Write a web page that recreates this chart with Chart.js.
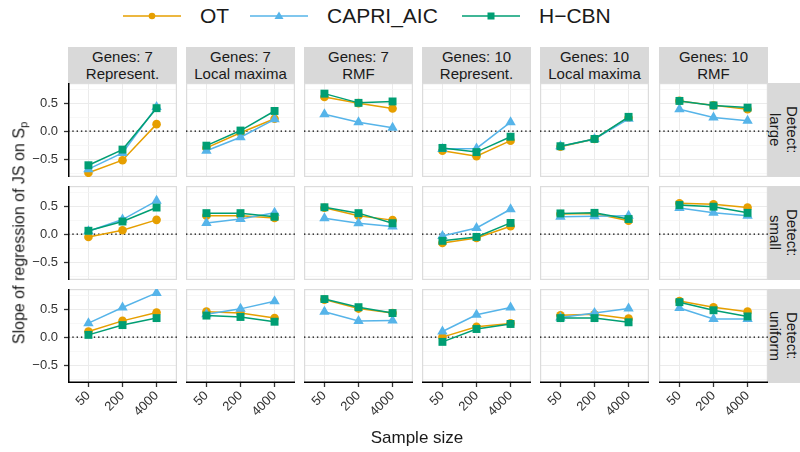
<!DOCTYPE html>
<html>
<head>
<meta charset="utf-8">
<script src="https://cdn.jsdelivr.net/npm/chart.js@4.4.0/dist/chart.umd.min.js"></script>
<style>
  body { margin: 0; background: #fff; font-family: "Liberation Sans", Arial, sans-serif; }
  #wrap { position: relative; width: 800px; height: 452px; overflow: hidden; background: #fff; }
  .cell { position: absolute; }
  .strip { position: absolute; background: #d9d9d9; color: #1a1a1a; font-size: 15px; line-height: 17px;
           text-align: center; display: flex; align-items: center; justify-content: center; }
  .rstrip { writing-mode: vertical-rl; }
  .legend-item { position: absolute; top: 4px; height: 24px; display: flex; align-items: center; font-size: 21px; color: #1a1a1a; }
  .title { position: absolute; color: #1a1a1a; white-space: nowrap; transform: translate(-50%, -50%); }
</style>
</head>
<body>
<div id="wrap"></div>
<script>
const sampleSizes = ["50", "200", "4000"];
const geneLabels = ["Genes: 7", "Genes: 7", "Genes: 7", "Genes: 10", "Genes: 10", "Genes: 10"];
const landscapeLabels = ["Represent.", "Local maxima", "RMF", "Represent.", "Local maxima", "RMF"];
const detectLabels = ["large", "small", "uniform"];
const yTicks = [-0.75, -0.5, -0.25, 0, 0.25, 0.5, 0.75];

// values[row][col] = slope at sample size 50, 200, 4000
const otValues = [
  [[-0.745, -0.52, 0.125], [-0.30, -0.03, 0.22], [0.61, 0.50, 0.405], [-0.35, -0.45, -0.17], [-0.28, -0.14, 0.24], [0.54, 0.46, 0.39]],
  [[-0.05, 0.07, 0.255], [0.33, 0.33, 0.29], [0.47, 0.33, 0.25], [-0.16, -0.07, 0.14], [0.36, 0.37, 0.24], [0.55, 0.535, 0.475]],
  [[0.10, 0.29, 0.44], [0.455, 0.43, 0.34], [0.67, 0.51, 0.43], [0.0, 0.185, 0.245], [0.39, 0.41, 0.33], [0.645, 0.535, 0.455]]
];
const capriValues = [
  [[-0.68, -0.39, 0.43], [-0.35, -0.11, 0.21], [0.30, 0.16, 0.06], [-0.32, -0.31, 0.16], [-0.27, -0.14, 0.22], [0.39, 0.245, 0.185]],
  [[0.05, 0.26, 0.595], [0.20, 0.27, 0.38], [0.285, 0.195, 0.135], [-0.035, 0.11, 0.445], [0.31, 0.32, 0.33], [0.465, 0.38, 0.33]],
  [[0.25, 0.53, 0.79], [0.41, 0.505, 0.64], [0.455, 0.29, 0.295], [0.10, 0.40, 0.53], [0.35, 0.43, 0.51], [0.52, 0.325, 0.325]]
];
const hcbnValues = [
  [[-0.61, -0.33, 0.41], [-0.26, 0.01, 0.36], [0.67, 0.505, 0.53], [-0.30, -0.375, -0.10], [-0.27, -0.14, 0.255], [0.54, 0.46, 0.42]],
  [[0.06, 0.225, 0.475], [0.375, 0.375, 0.31], [0.48, 0.375, 0.195], [-0.12, -0.05, 0.20], [0.37, 0.38, 0.27], [0.52, 0.49, 0.38]],
  [[0.04, 0.215, 0.34], [0.385, 0.36, 0.275], [0.68, 0.535, 0.43], [-0.085, 0.145, 0.235], [0.34, 0.34, 0.265], [0.625, 0.48, 0.37]]
];

const series = [
  { label: "OT", values: otValues, color: "#E69F00", style: "circle", radius: 4.3, order: 3 },
  { label: "CAPRI_AIC", values: capriValues, color: "#56B4E9", style: "triangle", radius: 6, order: 2 },
  { label: "H\u2212CBN", values: hcbnValues, color: "#009E73", style: "rect", radius: 5.6, order: 1 }
];

const FONT = "'Liberation Sans', Arial, sans-serif";
Chart.defaults.font.family = FONT;

// layout
const PANEL_X0 = 68, PANEL_STEP = 118.1, PANEL_W = 109;
const ROW_TOPS = [83, 186, 289], PANEL_H = 94;
const LEFT_M = 40, BOTTOM_M = 48;

const wrap = document.getElementById("wrap");
const fmt = v => (v < 0 ? "\u2212" : "") + Math.abs(v).toFixed(1);
const isMajor = v => Math.abs(Math.round(v * 2) - v * 2) < 1e-6;
const noPad = s => { s.paddingLeft = s.paddingRight = s.paddingTop = s.paddingBottom = 0; };

// panel border, dotted zero line, black axis lines on the outer panels
const panelFrame = {
  id: "panelFrame",
  beforeDatasetsDraw(chart, args, opts) {
    const { ctx, chartArea: a, scales } = chart;
    ctx.save();
    ctx.strokeStyle = "#dcdcdc";
    ctx.lineWidth = 1.2;
    ctx.strokeRect(a.left + 0.6, a.top + 0.6, a.right - a.left - 1.2, a.bottom - a.top - 1.2);
    const y0 = scales.y.getPixelForValue(0);
    ctx.strokeStyle = "#000";
    ctx.lineWidth = 1.4;
    ctx.setLineDash([1.4, 2.9]);
    ctx.beginPath();
    ctx.moveTo(a.left, y0);
    ctx.lineTo(a.right, y0);
    ctx.stroke();
    ctx.setLineDash([]);
    ctx.lineWidth = 1.5;
    if (opts.left) {
      ctx.beginPath();
      ctx.moveTo(a.left + 0.75, a.top);
      ctx.lineTo(a.left + 0.75, a.bottom);
      ctx.stroke();
    }
    if (opts.bottom) {
      ctx.beginPath();
      ctx.moveTo(a.left, a.bottom - 0.75);
      ctx.lineTo(a.right, a.bottom - 0.75);
      ctx.stroke();
    }
    ctx.restore();
  }
};

function makePanel(row, col) {
  const isLeft = col === 0;
  const isBottom = row === ROW_TOPS.length - 1;
  const ml = isLeft ? LEFT_M : 0;
  const mb = isBottom ? BOTTOM_M : 0;
  const px = Math.round(PANEL_X0 + PANEL_STEP * col);
  const box = document.createElement("div");
  box.className = "cell";
  box.style.left = (px - ml) + "px";
  box.style.top = ROW_TOPS[row] + "px";
  box.style.width = (PANEL_W + ml) + "px";
  box.style.height = (PANEL_H + mb) + "px";
  const canvas = document.createElement("canvas");
  box.appendChild(canvas);
  wrap.appendChild(box);

  new Chart(canvas, {
    type: "line",
    data: {
      datasets: series.map(s => ({
        label: s.label,
        data: s.values[row][col].map((v, i) => ({ x: i + 1, y: v })),
        borderColor: s.color,
        backgroundColor: s.color,
        borderWidth: 1.5,
        pointStyle: s.style,
        pointRadius: s.radius,
        pointBorderWidth: 0,
        order: s.order
      }))
    },
    options: {
      responsive: true,
      maintainAspectRatio: false,
      animation: false,
      events: [],
      layout: { padding: 0, autoPadding: false },
      plugins: {
        legend: { display: false },
        tooltip: { enabled: false },
        panelFrame: { left: isLeft, bottom: isBottom }
      },
      scales: {
        x: {
          type: "linear",
          min: 0.4,
          max: 3.6,
          afterBuildTicks: s => { s.ticks = sampleSizes.map((_, i) => ({ value: i + 1 })); },
          afterFit: s => { s.height = mb; noPad(s); },
          border: { display: false },
          grid: { color: "#ebebeb", lineWidth: 1, drawTicks: isBottom, tickLength: 4, tickColor: "#333", tickWidth: 1.3 },
          ticks: {
            display: isBottom, autoSkip: false, minRotation: 45, maxRotation: 45, padding: 1,
            color: "#333", font: { size: 13 },
            callback: v => sampleSizes[v - 1]
          }
        },
        y: {
          min: -0.82,
          max: 0.86,
          afterBuildTicks: s => { s.ticks = yTicks.map(v => ({ value: v })); },
          afterFit: s => { s.width = ml; noPad(s); },
          border: { display: false },
          grid: {
            color: c => isMajor(c.tick.value) ? "#ebebeb" : "#f4f4f4",
            lineWidth: c => isMajor(c.tick.value) ? 1 : 0.7,
            drawTicks: isLeft, tickLength: 4, tickWidth: 1.3,
            tickColor: c => isMajor(c.tick.value) ? "#333" : "rgba(0,0,0,0)"
          },
          ticks: {
            display: isLeft, autoSkip: false, padding: 6, color: "#333", font: { size: 13 },
            callback: v => isMajor(v) ? fmt(v) : ""
          }
        }
      }
    },
    plugins: [panelFrame]
  });
}

function addDiv(cls, html, l, t, w, h) {
  const d = document.createElement("div");
  d.className = cls;
  d.innerHTML = html;
  d.style.left = l + "px";
  d.style.top = t + "px";
  if (w != null) d.style.width = w + "px";
  if (h != null) d.style.height = h + "px";
  wrap.appendChild(d);
  return d;
}

for (let c = 0; c < geneLabels.length; c++) {
  const px = Math.round(PANEL_X0 + PANEL_STEP * c);
  addDiv("strip", geneLabels[c] + "<br>" + landscapeLabels[c], px, 47, PANEL_W, 36);
}
for (let r = 0; r < detectLabels.length; r++) {
  addDiv("strip rstrip", "Detect:<br>" + detectLabels[r], 768, ROW_TOPS[r], 32, PANEL_H);
  for (let c = 0; c < geneLabels.length; c++) makePanel(r, c);
}

// legend
const legendX = [123, 250, 462];
series.forEach((s, i) => {
  let mark;
  if (s.style === "circle") mark = `<circle cx="29" cy="12" r="3.3" fill="${s.color}"/>`;
  else if (s.style === "triangle") mark = `<polygon points="29,7.5 33.5,15 24.5,15" fill="${s.color}"/>`;
  else mark = `<rect x="25.5" y="8.5" width="7" height="7" fill="${s.color}"/>`;
  addDiv("legend-item",
    `<svg width="58" height="24"><line x1="0" y1="12" x2="58" y2="12" stroke="${s.color}" stroke-width="1.6"/>${mark}</svg>` +
    `<span style="margin-left:19px">${s.label}</span>`,
    legendX[i], 4);
});

const yt = addDiv("title", "Slope of regression of JS on S<sub style=\"font-size:70%;vertical-align:-0.3em\">p</sub>", 20, 233);
yt.style.fontSize = "16px";
yt.style.transform = "translate(-50%, -50%) rotate(-90deg)";
const xt = addDiv("title", "Sample size", 417, 438);
xt.style.fontSize = "17px";
</script>
</body>
</html>
